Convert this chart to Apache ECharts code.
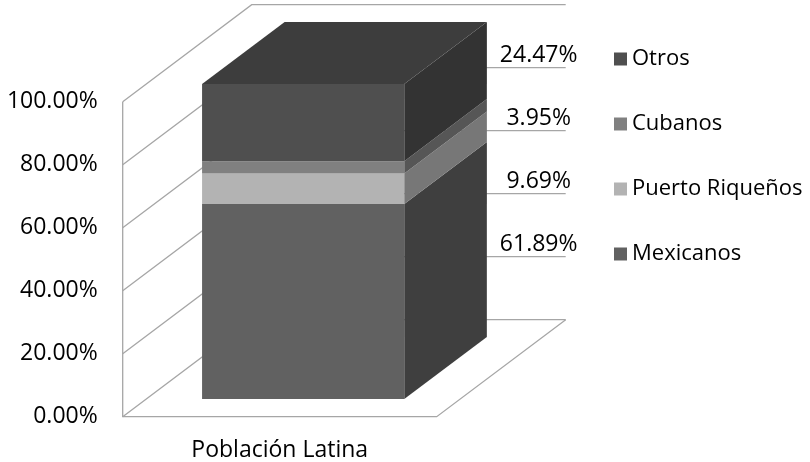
<!DOCTYPE html>
<html>
<head>
<meta charset="utf-8">
<script src="https://cdn.jsdelivr.net/npm/echarts@6/dist/echarts.min.js"></script>
<style>
  html, body { margin: 0; padding: 0; background: #fff; }
  #main { width: 810px; height: 462px; }
</style>
</head>
<body>
<div id="main"></div>
<script>
const categories = ['Población Latina'];
const seriesNames = ['Mexicanos', 'Puerto Riqueños', 'Cubanos', 'Otros'];
const mexicanos = [61.89];
const puertoRiquenos = [9.69];
const cubanos = [3.95];
const otros = [24.47];
const yTicks = [0, 20, 40, 60, 80, 100];
const legendOrder = ['Otros', 'Cubanos', 'Puerto Riqueños', 'Mexicanos'];

const values = [mexicanos, puertoRiquenos, cubanos, otros];
const frontColors = ['#616161', '#b3b3b3', '#808080', '#4f4f4f'];
const sideColors = ['#3f3f3f', '#777777', '#565656', '#333333'];
const topColor = '#3d3d3d';
const wallColor = '#a6a6a6';
const FONT = 'Open Sans';

// 3D look: depth of the walls in px, bar sits in the middle of that depth
const DX = 129, DY = 97;
const BAR_W = 0.644, BAR_F = 0.182, BAR_D = 0.64;

const chart = echarts.init(document.getElementById('main'));

// walls and gridlines, one item per tick
function renderWall(params, api) {
  const v = api.value(1);
  const p = api.coord([0, v]);
  const bw = api.size([1, 0])[0];
  const left = p[0] - bw / 2, right = p[0] + bw / 2, y = p[1];
  const ls = { stroke: wallColor, lineWidth: 1.3, fill: null };
  const children = [{
    type: 'polyline',
    shape: { points: [[left, y], [left + DX, y - DY], [right + DX, y - DY]] },
    style: ls
  }];
  if (v === yTicks[0]) {
    const top = api.coord([0, yTicks[yTicks.length - 1]])[1];
    children.push({
      type: 'polyline',
      shape: { points: [[left, top], [left, y], [right, y], [right + DX, y - DY]] },
      style: ls
    });
  }
  return { type: 'group', children: children };
}

function makeBar(i) {
  return function (params, api) {
    const c = api.value(0);
    const lo = api.coord([c, api.value(1)]);
    const hi = api.coord([c, api.value(2)]);
    const bw = api.size([1, 0])[0];
    const w = bw * BAR_W;
    const x0 = lo[0] - w / 2 + DX * BAR_F, x1 = x0 + w;
    const yb = lo[1] - DY * BAR_F, yt = hi[1] - DY * BAR_F;
    const ddx = DX * BAR_D, ddy = DY * BAR_D;
    const children = [
      { type: 'rect', shape: { x: x0, y: yt, width: w, height: yb - yt },
        style: { fill: frontColors[i] } },
      { type: 'polygon',
        shape: { points: [[x1, yt], [x1 + ddx, yt - ddy], [x1 + ddx, yb - ddy], [x1, yb]] },
        style: { fill: sideColors[i] } }
    ];
    if (i === values.length - 1) {
      children.push({ type: 'polygon',
        shape: { points: [[x0, yt], [x0 + ddx, yt - ddy], [x1 + ddx, yt - ddy], [x1, yt]] },
        style: { fill: topColor } });
    }
    // value label sits above the back-wall gridline right of the bar
    const yl = api.coord([c, yTicks[i + 1]])[1] - DY;
    children.push({ type: 'text',
      style: { x: lo[0] + bw / 2 + DX - 27, y: yl - 12.5,
        text: (api.value(2) - api.value(1)).toFixed(2) + '%',
        align: 'center', verticalAlign: 'middle',
        fontFamily: FONT, fontSize: 23, fill: '#000' } });
    return { type: 'group', children: children };
  };
}

const series = [{
  name: 'walls',
  type: 'custom',
  z: 1,
  silent: true,
  renderItem: renderWall,
  encode: { x: 0, y: 1 },
  data: yTicks.map(v => [0, v])
}];

values.forEach((arr, i) => {
  series.push({
    name: seriesNames[i],
    type: 'custom',
    z: 2 + i,
    renderItem: makeBar(i),
    itemStyle: { color: frontColors[i] },
    encode: { x: 0, y: [1, 2] },
    data: arr.map((v, k) => {
      let base = 0;
      for (let j = 0; j < i; j++) base += values[j][k];
      return [k, base, base + v];
    })
  });
});

chart.setOption({
  animation: false,
  grid: { left: 122.7, right: 373.3, top: 101.7, bottom: 45.3, containLabel: false },
  legend: {
    orient: 'vertical',
    left: 609, top: 41,
    icon: 'rect',
    itemWidth: 13, itemHeight: 13,
    itemGap: 39,
    selectedMode: false,
    data: legendOrder,
    textStyle: { fontFamily: FONT, fontSize: 22, color: '#000', lineHeight: 26 }
  },
  xAxis: {
    type: 'category',
    data: categories,
    axisLine: { show: false },
    axisTick: { show: false },
    axisLabel: { margin: 22, fontFamily: FONT, fontSize: 23, color: '#000' }
  },
  yAxis: {
    type: 'value',
    min: 0, max: 100, interval: 20,
    axisLine: { show: false },
    axisTick: { show: false },
    splitLine: { show: false },
    axisLabel: {
      margin: 25, fontFamily: FONT, fontSize: 23, color: '#000',
      padding: [6, 0, 0, 0],
      formatter: v => v.toFixed(2) + '%'
    }
  },
  series: series
});
</script>
</body>
</html>
